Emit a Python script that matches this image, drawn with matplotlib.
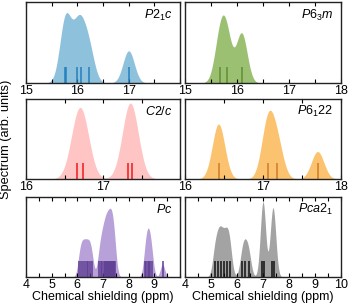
import matplotlib.pyplot as plt
import numpy as np
from matplotlib.ticker import MultipleLocator, FixedLocator

plt.rcParams['font.family'] = ['Liberation Sans', 'DejaVu Sans']
plt.rcParams['mathtext.fontset'] = 'custom'
plt.rcParams['mathtext.it'] = 'Liberation Sans:italic'
plt.rcParams['mathtext.rm'] = 'Liberation Sans'

# stick positions (ppm) and relative weights, per structure
p21c_sticks = [15.76, 15.78, 15.99, 16.07, 16.22, 17.00]
p21c_weights = [1, 1, 1, 0.9, 1, 1]
p63m_sticks = [15.67, 15.80, 16.09]
p63m_weights = [1, 1, 1.2]
c2c_sticks = [16.66, 16.745, 17.33, 17.38]
c2c_weights = [1, 1, 1, 1]
p6122_sticks = [16.43, 17.06, 17.18, 17.70]
p6122_weights = [2, 2, 1.2, 1]
pc_sticks = [6.08, 6.15, 6.22, 6.29, 6.36, 6.43, 6.50, 6.57,
             6.84, 6.91, 6.97, 7.02, 7.07, 7.11, 7.15, 7.19, 7.23, 7.27,
             7.31, 7.34, 7.38, 7.42, 7.47,
             8.64, 8.69, 8.74, 8.79, 8.84, 8.90, 9.32]
pc_weights = [1] * len(pc_sticks)
pca21_sticks = [5.15, 5.28, 5.38, 5.50, 5.62, 5.72,
                6.20, 6.32, 6.45, 6.98, 7.02, 7.35, 7.42]
pca21_weights = [1.5, 1.5, 1.5, 1.5, 1.5, 1.5, 1.3, 1.3, 1.3,
                 2.5, 2.5, 2.4, 2.4]

panels = [
    # label, sticks, weights, broadening, xlim, peak fraction, fill, stick colour
    ('$P2_1c$', p21c_sticks, p21c_weights, 0.11, (15, 18), 0.87, '#8ec1dc', '#2480bd'),
    ('$P6_3m$', p63m_sticks, p63m_weights, 0.105, (15, 18), 0.84, '#9cc072', '#5f8f32'),
    ('$C2/c$', c2c_sticks, c2c_weights, 0.10, (16, 18), 0.95, '#ffc4c4', '#f01818'),
    ('$P6_122$', p6122_sticks, p6122_weights, 0.08, (16, 18), 0.86, '#fbc36f', '#d17a2a'),
    ('$Pc$', pc_sticks, pc_weights, 0.085, (4, 10), 0.86, '#b8a0d8', '#5e3d92'),
    ('$Pca2_1$', pca21_sticks, pca21_weights, 0.10, (4, 10), 0.94, '#a3a3a3', '#111111'),
]

W, H = 348, 307
fig = plt.figure(figsize=(W / 100, H / 100), dpi=100)
cols = [(26, 154), (185, 156)]
rows = [(2, 81), (99, 80), (197, 80)]

for i, (label, sticks, weights, sig, xlim, frac, fc, sc) in enumerate(panels):
    r, c = divmod(i, 2)
    x0, w = cols[c]
    y0, h = rows[r]
    ax = fig.add_axes([x0 / W, (H - y0 - h) / H, w / W, h / H])
    x = np.linspace(xlim[0], xlim[1], 1200)
    spec = np.zeros_like(x)
    for s, wt in zip(sticks, weights):
        spec += wt * np.exp(-(x - s) ** 2 / (2 * sig ** 2))
    top = spec.max() / frac
    ax.fill_between(x, 0, spec, color=fc, lw=0)
    ax.vlines(sticks, 0, 0.2 * top, color=sc, lw=1.1)
    ax.set_xlim(*xlim)
    ax.set_ylim(0, top)
    ax.set_yticks([])
    major = np.arange(xlim[0], xlim[1] + 0.01, 1)
    ax.xaxis.set_major_locator(FixedLocator(major))
    labels = ['%d' % v for v in major]
    if c == 0:
        labels[-1] = ''
    ax.set_xticklabels(labels)
    ax.xaxis.set_minor_locator(MultipleLocator(0.5))
    ax.tick_params(axis='x', which='both', direction='in', top=True,
                   length=3, width=0.8, labelsize=9, pad=1.5)
    for sp in ax.spines.values():
        sp.set_linewidth(1.0)
        sp.set_color('#222222')
    ax.text(0.95, 0.84, label, transform=ax.transAxes, ha='right', va='center',
            fontsize=9)
    if r == 2:
        ax.set_xlabel('Chemical shielding (ppm)', fontsize=9, labelpad=0)

fig.text(6 / W, 1 - 139 / H, 'Spectrum (arb. units)', rotation=90,
         ha='center', va='center', fontsize=9.2)

fig.savefig('out.png', dpi=100)
